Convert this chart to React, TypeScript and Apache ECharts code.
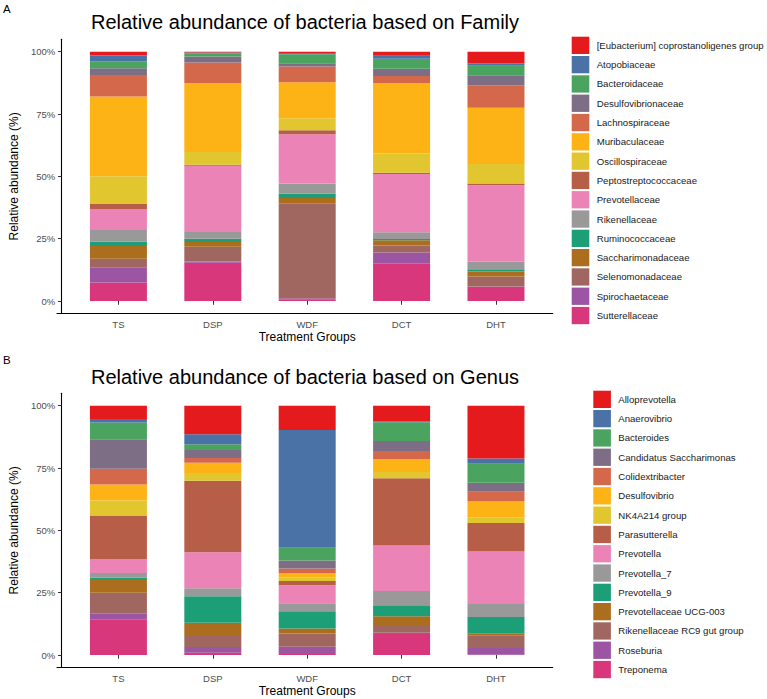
import React, { useEffect, useRef } from "react";
import * as echarts from "echarts";

// Treatment groups on the x axis
const groups = ["TS", "DSP", "WDF", "DCT", "DHT"];

// Family level taxa, listed top of stack first (legend order)
const families = [
  "[Eubacterium] coprostanoligenes group",
  "Atopobiaceae",
  "Bacteroidaceae",
  "Desulfovibrionaceae",
  "Lachnospiraceae",
  "Muribaculaceae",
  "Oscillospiraceae",
  "Peptostreptococcaceae",
  "Prevotellaceae",
  "Rikenellaceae",
  "Ruminococcaceae",
  "Saccharimonadaceae",
  "Selenomonadaceae",
  "Spirochaetaceae",
  "Sutterellaceae",
];

// Relative abundance (%) per group, same order as `families`
const familyTS = [1.5, 2.3, 2.8, 2.8, 8.6, 32.0, 11.1, 2.0, 8.4, 4.7, 1.7, 5.1, 3.5, 6.1, 7.4];
const familyDSP = [0.3, 0.4, 1.2, 2.4, 8.3, 27.6, 5.1, 0.4, 26.6, 2.7, 1.3, 1.9, 5.9, 0.5, 15.4];
const familyWDF = [0.8, 0.2, 3.6, 1.3, 6.4, 14.4, 4.8, 1.6, 19.8, 4.1, 1.7, 2.1, 38.1, 0.4, 0.7];
const familyDCT = [1.6, 1.2, 4.1, 2.9, 2.9, 28.1, 7.8, 0.5, 23.3, 2.7, 0.5, 2.1, 2.8, 4.5, 15.0];
const familyDHT = [4.7, 0.9, 3.9, 4.0, 9.0, 22.5, 7.9, 0.7, 30.6, 3.1, 0.9, 2.0, 4.0, 0.1, 5.7];

// Genus level taxa, listed top of stack first (legend order)
const genera = [
  "Alloprevotella",
  "Anaerovibrio",
  "Bacteroides",
  "Candidatus Saccharimonas",
  "Colidextribacter",
  "Desulfovibrio",
  "NK4A214 group",
  "Parasutterella",
  "Prevotella",
  "Prevotella_7",
  "Prevotella_9",
  "Prevotellaceae UCG-003",
  "Rikenellaceae RC9 gut group",
  "Roseburia",
  "Treponema",
];

const genusTS = [5.3, 1.5, 6.7, 11.8, 6.3, 6.4, 6.0, 17.5, 5.6, 1.9, 0.5, 5.5, 8.4, 2.3, 14.3];
const genusDSP = [11.5, 4.0, 2.3, 3.2, 1.9, 4.1, 3.1, 28.7, 14.4, 3.2, 10.7, 4.9, 4.8, 2.3, 0.9];
const genusWDF = [9.8, 47.2, 5.1, 3.2, 1.9, 1.6, 1.5, 1.7, 7.2, 3.2, 7.0, 2.0, 5.3, 2.9, 0.4];
const genusDCT = [6.2, 0.4, 7.6, 4.0, 3.3, 5.1, 2.5, 27.0, 18.2, 5.7, 4.4, 3.6, 3.1, 0.5, 8.4];
const genusDHT = [21.2, 2.1, 7.6, 3.6, 3.9, 6.3, 2.4, 11.4, 21.0, 5.2, 6.6, 0.8, 5.1, 2.7, 0.1];

const yTicks = [0, 25, 50, 75, 100];

const palette = [
  "#E41A1C",
  "#4A72A6",
  "#4AA45F",
  "#7E6E85",
  "#D3694A",
  "#FDB316",
  "#E1C62F",
  "#B65E47",
  "#EB83B7",
  "#999999",
  "#1C9E77",
  "#AB6E1F",
  "#A06760",
  "#9B55A3",
  "#D8377B",
];

const FONT = "'Liberation Sans', Arial, Helvetica, sans-serif";

// Panel geometry: axis frame spans the full panel, the category bands are
// inset so that the outer bars keep a 0.6-band margin from the frame.
const PANEL_LEFT = 57;
const PANEL_RIGHT = 214.3;
const BAND_INSET = 9.53;
const panels = [
  { top: 39.2, bottom: 385.5 },
  { top: 393.2, bottom: 31.5 },
];

function buildSeries(taxa: string[], byGroup: number[][], axisIndex: number, stack: string) {
  // The last taxon sits at the bottom of each stacked bar, so add series in reverse.
  return taxa
    .map((name, i) => ({
      name,
      type: "bar",
      stack,
      xAxisIndex: axisIndex,
      yAxisIndex: axisIndex,
      barWidth: 57,
      itemStyle: { color: palette[i] },
      data: byGroup.map((vals) => vals[i]),
    }))
    .reverse();
}

function categoryAxis(gridIndex: number) {
  return {
    type: "category",
    gridIndex,
    data: groups,
    name: "Treatment Groups",
    nameLocation: "middle",
    nameGap: 17,
    nameTextStyle: { fontFamily: FONT, fontSize: 12, color: "#000" },
    axisLine: { show: false },
    axisTick: { show: true, alignWithLabel: true, length: 3.7, lineStyle: { color: "#333", width: 1 } },
    axisLabel: { margin: 5.5, fontFamily: FONT, fontSize: 9.5, color: "#4D4D4D" },
    splitLine: { show: false },
  };
}

// Plain value axis used only to draw the full-width baseline of a panel
function frameXAxis(gridIndex: number) {
  return {
    type: "value",
    gridIndex,
    min: 0,
    max: 1,
    axisLine: { show: true, onZero: false, lineStyle: { color: "#000", width: 1.1 } },
    axisTick: { show: false },
    axisLabel: { show: false },
    splitLine: { show: false },
  };
}

function hiddenYAxis(gridIndex: number) {
  return {
    type: "value",
    gridIndex,
    min: 0,
    max: 1,
    axisLine: { show: false },
    axisTick: { show: false },
    axisLabel: { show: false },
    splitLine: { show: false },
  };
}

function percentAxis(gridIndex: number) {
  return {
    type: "value",
    gridIndex,
    min: -5,
    max: 105,
    offset: BAND_INSET,
    name: "Relative abundance (%)",
    nameLocation: "middle",
    nameGap: 33,
    nameRotate: 90,
    nameTextStyle: { fontFamily: FONT, fontSize: 12, color: "#000" },
    axisLine: { show: true, lineStyle: { color: "#000", width: 1.1 } },
    axisTick: { show: true, customValues: yTicks, length: 3.7, lineStyle: { color: "#333", width: 1 } },
    axisLabel: {
      customValues: yTicks,
      margin: 6.5,
      fontFamily: FONT,
      fontSize: 9.5,
      color: "#4D4D4D",
      formatter: (v: number) => `${v}%`,
    },
    splitLine: { show: false },
  };
}

function legendFor(taxa: string[], left: number, top: number) {
  return {
    data: taxa,
    orient: "vertical",
    left,
    top,
    padding: 0,
    icon: "rect",
    itemWidth: 17.6,
    itemHeight: 17.3,
    itemGap: 2,
    selectedMode: false,
    textStyle: { fontFamily: FONT, fontSize: 9.6, color: "#1A1A1A", padding: [0, 0, 0, 2.4] },
  };
}

export default function App() {
  const ref = useRef<HTMLDivElement>(null);

  useEffect(() => {
    if (!ref.current) return;
    const chart = echarts.init(ref.current, undefined, { renderer: "svg" });
    const familyData = [familyTS, familyDSP, familyWDF, familyDCT, familyDHT];
    const genusData = [genusTS, genusDSP, genusWDF, genusDCT, genusDHT];

    const titleStyle = { fontFamily: FONT, fontSize: 20, fontWeight: "normal", color: "#000" };
    const tagStyle = { fontFamily: FONT, fontSize: 11.5, fontWeight: "normal", color: "#000" };

    chart.setOption({
      animation: false,
      backgroundColor: "#FFFFFF",
      title: [
        {
          text: "Relative abundance of bacteria based on Family",
          left: 305,
          top: 12,
          textAlign: "center",
          padding: 0,
          textStyle: titleStyle,
        },
        {
          text: "Relative abundance of bacteria based on Genus",
          left: 305,
          top: 367,
          textAlign: "center",
          padding: 0,
          textStyle: titleStyle,
        },
        { text: "A", left: 3, top: 3, padding: 0, textStyle: tagStyle },
        { text: "B", left: 3, top: 354, padding: 0, textStyle: tagStyle },
      ],
      legend: [legendFor(families, 571.7, 36.7), legendFor(genera, 593.3, 390.7)],
      grid: [
        // data grids (category bands)
        ...panels.map((p) => ({
          left: PANEL_LEFT + BAND_INSET,
          right: PANEL_RIGHT + BAND_INSET,
          top: p.top,
          bottom: p.bottom,
        })),
        // frame grids (full-width baseline)
        ...panels.map((p) => ({ left: PANEL_LEFT, right: PANEL_RIGHT, top: p.top, bottom: p.bottom })),
      ],
      xAxis: [categoryAxis(0), categoryAxis(1), frameXAxis(2), frameXAxis(3)],
      yAxis: [percentAxis(0), percentAxis(1), hiddenYAxis(2), hiddenYAxis(3)],
      series: [
        ...buildSeries(families, familyData, 0, "family"),
        ...buildSeries(genera, genusData, 1, "genus"),
      ],
    });

    return () => chart.dispose();
  }, []);

  return (
    <div
      ref={ref}
      style={{ position: "fixed", left: 0, top: 0, width: 767, height: 699, background: "#fff" }}
    />
  );
}
